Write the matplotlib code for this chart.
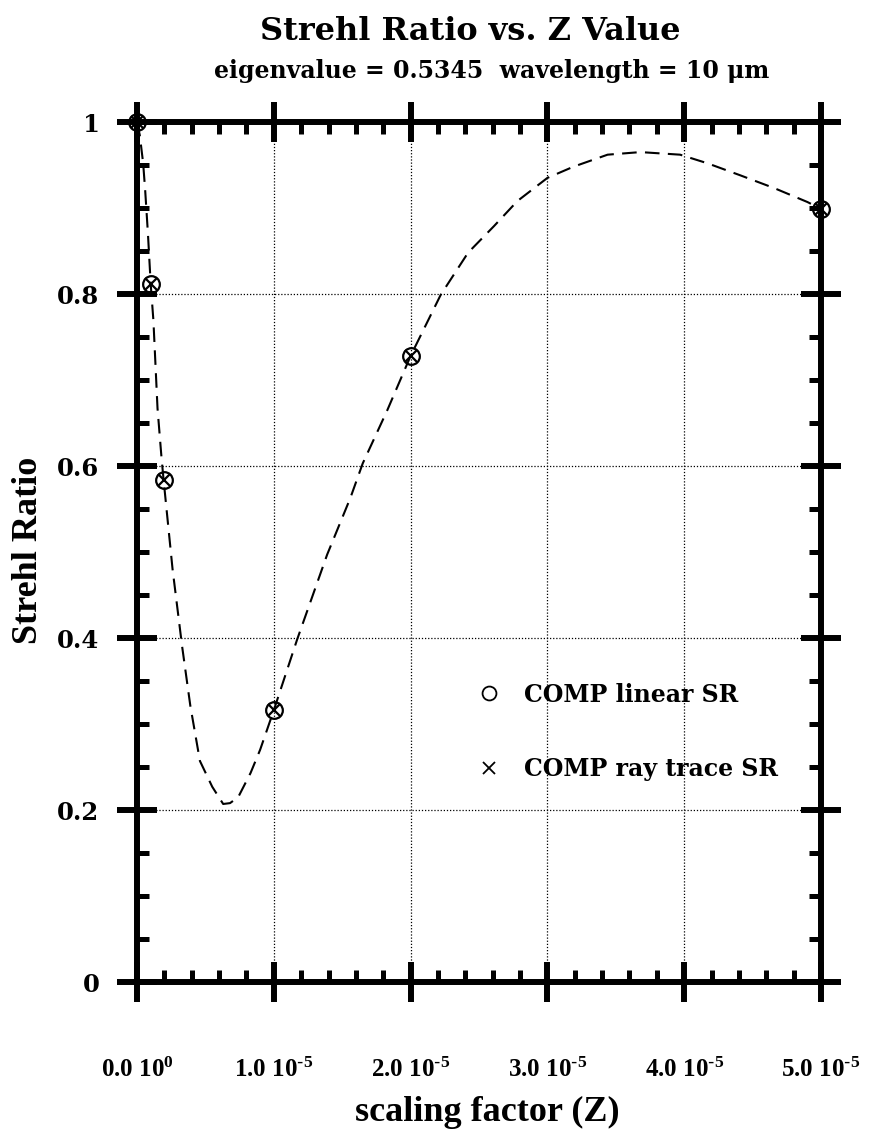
import numpy as np
import matplotlib
matplotlib.use("Agg")
import matplotlib.pyplot as plt
from matplotlib.lines import Line2D
from matplotlib.ticker import MultipleLocator, FixedLocator

# Smooth Strehl-ratio curve (Z in units of 1e-5)
z_curve = np.array([0.00, 0.02, 0.045, 0.06, 0.08, 0.10, 0.12, 0.15, 0.18, 0.20,
                    0.26, 0.33, 0.39, 0.46, 0.55, 0.63, 0.68, 0.74, 0.83, 0.90,
                    1.00, 1.17, 1.39, 1.56, 1.65, 1.83, 2.00, 2.22, 2.42, 2.61,
                    2.78, 3.00, 3.19, 3.44, 3.68, 3.97, 4.17, 4.41, 4.66, 4.90,
                    5.00]) * 1e-5
sr_curve = np.array([1.000, 0.985, 0.952, 0.920, 0.870, 0.812, 0.769, 0.667, 0.608, 0.575,
                     0.480, 0.390, 0.321, 0.257, 0.227, 0.207, 0.208, 0.215, 0.243, 0.270,
                     0.316, 0.398, 0.497, 0.563, 0.603, 0.665, 0.728, 0.799, 0.848, 0.879,
                     0.908, 0.935, 0.948, 0.962, 0.965, 0.962, 0.952, 0.938, 0.923, 0.907,
                     0.899])

# Computed sample points
z_points = np.array([0.0, 0.1, 0.2, 1.0, 2.0, 5.0]) * 1e-5
sr_linear = [1.000, 0.812, 0.584, 0.316, 0.728, 0.899]
sr_raytrace = [1.000, 0.812, 0.584, 0.316, 0.728, 0.899]

x_tick_values = [0.0, 1e-5, 2e-5, 3e-5, 4e-5, 5e-5]
x_tick_labels = [r"0.0 10$^{0}$", r"1.0 10$^{\text{-}5}$", r"2.0 10$^{\text{-}5}$",
                 r"3.0 10$^{\text{-}5}$", r"4.0 10$^{\text{-}5}$", r"5.0 10$^{\text{-}5}$"]
y_tick_values = [0, 0.2, 0.4, 0.6, 0.8, 1.0]
y_tick_labels = ["0", "0.2", "0.4", "0.6", "0.8", "1"]

plt.rcParams["mathtext.default"] = "regular"

W, H = 878, 1134
fig = plt.figure(figsize=(W / 100, H / 100), dpi=100)
ax = fig.add_axes([137 / W, 1 - 982 / H, (821 - 137) / W, (982 - 122) / H])

ax.plot(z_curve, sr_curve, color="black", lw=1.5, dashes=(7, 4), zorder=3)
ax.plot(z_points, sr_linear, linestyle="none", marker="o", ms=12, mfc="none",
        mec="black", mew=1.6, clip_on=False, zorder=4)
ax.plot(z_points, sr_raytrace, linestyle="none", marker="x", ms=8.5,
        mec="black", mew=1.6, clip_on=False, zorder=4)

ax.set_xlim(0, 5e-5)
ax.set_ylim(0, 1)

ax.xaxis.set_major_locator(FixedLocator(x_tick_values))
ax.xaxis.set_minor_locator(MultipleLocator(0.2e-5))
ax.yaxis.set_major_locator(FixedLocator(y_tick_values))
ax.yaxis.set_minor_locator(MultipleLocator(0.05))

ax.set_xticklabels(x_tick_labels, fontfamily="Liberation Serif",
                   fontweight="bold", fontsize=18)
ax.set_yticklabels(y_tick_labels, fontfamily="DejaVu Serif",
                   fontweight="bold", fontsize=17.5)

ax.tick_params(which="major", direction="inout", length=29, width=4.3,
               top=True, right=True, color="black")
ax.tick_params(which="minor", direction="in", length=8.5, width=3.6,
               top=True, right=True, color="black")
ax.tick_params(axis="x", which="major", pad=40)
ax.tick_params(axis="y", which="major", pad=12.5)

for sp in ax.spines.values():
    sp.set_linewidth(4.3)

ax.grid(True, which="major", color="black", linestyle=(0, (1, 1.5)), lw=0.9)

ax.set_xlabel("scaling factor (Z)", fontfamily="Liberation Serif",
              fontweight="bold", fontsize=26)
ax.xaxis.set_label_coords((487 - 137) / (821 - 137), -(1112 - 982) / (982 - 122))
ax.xaxis.label.set_va("center")
ax.set_ylabel("Strehl Ratio", fontfamily="Liberation Serif",
              fontweight="bold", fontsize=26)
ax.yaxis.set_label_coords(-(137 - 28) / (821 - 137), (982 - 550) / (982 - 122))
ax.yaxis.label.set_va("center")

handles = [
    Line2D([], [], linestyle="none", marker="o", ms=10, mfc="none",
           mec="black", mew=1.3, label="COMP linear SR"),
    Line2D([], [], linestyle="none", marker="x", ms=9, mec="black",
           mew=1.3, label="COMP ray trace SR"),
]
ax.legend(handles=handles, loc="center left",
          bbox_to_anchor=((465 - 137) / (821 - 137), (982 - 732) / (982 - 122)),
          frameon=False, labelspacing=2.15, handletextpad=0.5,
          borderpad=0, borderaxespad=0,
          prop={"family": "DejaVu Serif", "weight": "bold", "size": 17})

fig.text(470 / W, 1 - 32 / H, "Strehl Ratio vs. Z Value", ha="center",
         va="center", fontfamily="DejaVu Serif", fontweight="heavy",
         fontsize=23)
fig.text(492 / W, 1 - 71 / H, "eigenvalue = 0.5345  wavelength = 10 \u03bcm",
         ha="center", va="center", fontfamily="DejaVu Serif",
         fontweight="bold", fontsize=17)

fig.savefig("out.png", dpi=100)
